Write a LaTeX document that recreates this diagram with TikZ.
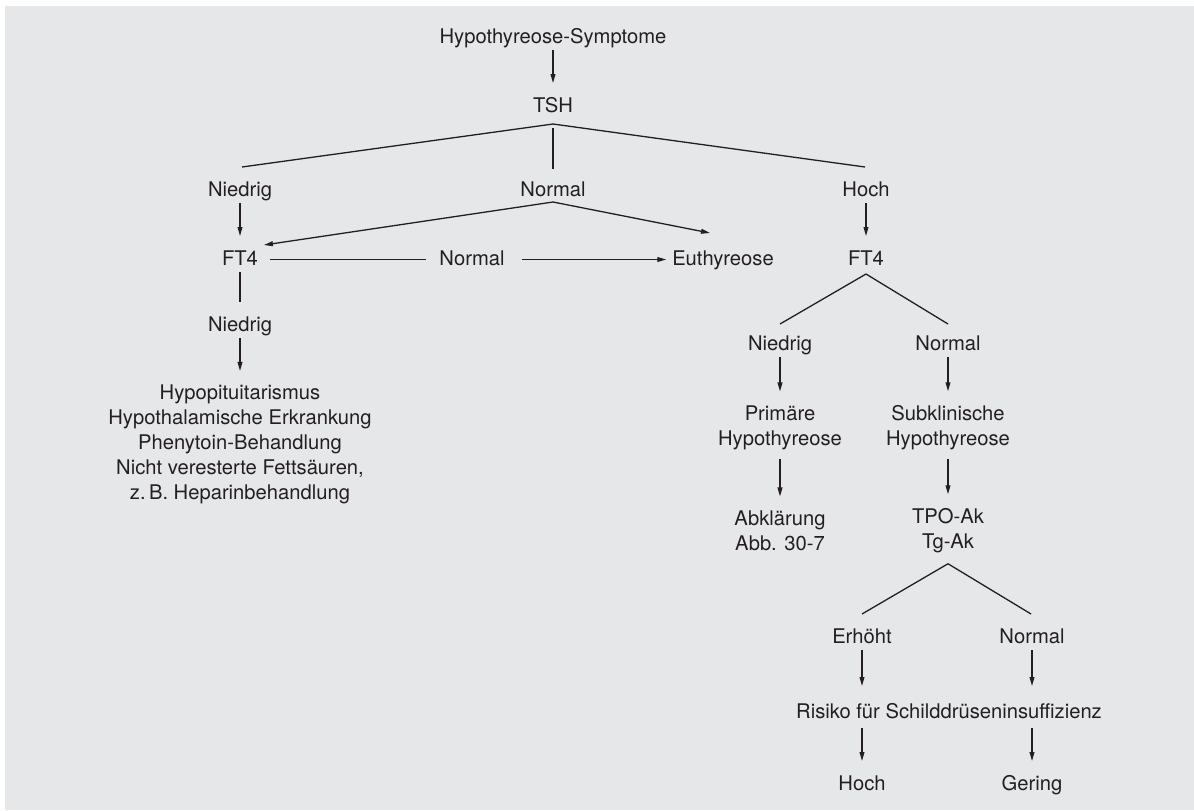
\documentclass[tikz,border=0pt]{standalone}
\usepackage{fontspec}
\setmainfont{TeX Gyre Heros}
\usepackage{xcolor}
\usetikzlibrary{arrows, arrows.meta}
\usetikzlibrary{positioning}
\usetikzlibrary{calc}

\definecolor{bgGrau}{RGB}{230,231,233}
\definecolor{tinte}{RGB}{35,31,32}

\tikzset{
	lbl/.style={inner sep=0pt, outer sep=0pt, text=tinte, font=\fontsize{10.1}{12.5}\selectfont, text height=7.5pt, text depth=2pt},
	blk/.style={inner sep=0pt, outer sep=0pt, text=tinte, font=\fontsize{10.1}{12.5}\selectfont, align=center},
	fork/.style={draw=tinte, line width=0.65pt},
	tip/.style={-{Triangle[length=4.5pt,width=2.4pt]}},
	lnk/.style={fork, shorten <=1.5pt, shorten >=7pt},
	arr/.style={lnk, tip},
}

\begin{document}
\begin{tikzpicture}[x=0.5pt,y=0.5pt,yscale=-1,xscale=1]
		\useasboundingbox (0,0) rectangle (1194,810);
		
		%Shape: Rectangle (background)
		\fill[bgGrau] (5,6) rectangle (1194,810);
		
		%Nodes: TSH level
		\node[lbl] (symptome) at (553,37.5) {Hypothyreose-Symptome};
		\node[lbl] (tsh) at (553,106.5) {TSH};
		\node[lbl] (tshniedrig) at (240,190.5) {Niedrig};
		\node[lbl] (tshnormal) at (553,190.5) {Normal};
		\node[lbl] (tshhoch) at (866,190.5) {Hoch};
		
		%Nodes: FT4 row
		\node[lbl] (ftlinks) at (240,259.5) {FT4};
		\node[lbl] (ftnormal) at (472,259.5) {Normal};
		\node[lbl] (euthyreose) at (723,259.5) {Euthyreose};
		\node[lbl] (ftrechts) at (866,259.5) {FT4};
		
		%Nodes: left branch
		\node[lbl] (ftniedrig) at (240,325.5) {Niedrig};
		\node[blk] (ursachen) at (240,444.5) {Hypopituitarismus\\Hypothalamische Erkrankung\\Phenytoin-Behandlung\\Nicht veresterte Fettsäuren,\\z.\,B. Heparinbehandlung};
		
		%Nodes: right branch
		\node[lbl] (subniedrig) at (780,344.5) {Niedrig};
		\node[lbl] (subnormal) at (948,344.5) {Normal};
		\node[blk] (primaer) at (780,427.5) {Primäre\\Hypothyreose};
		\node[blk] (subklin) at (948,427.5) {Subklinische\\Hypothyreose};
		\node[blk] (abklaerung) at (780,530.5) {Abklärung\\Abb. 30-7};
		\node[blk] (antik) at (948,530.5) {TPO-Ak\\Tg-Ak};
		\node[lbl] (erhoeht) at (862,637.5) {Erhöht};
		\node[lbl] (aknormal) at (1032,637.5) {Normal};
		\node[lbl] (risiko) at (949,712.5) {Risiko für Schilddrüseninsuffizienz};
		\node[lbl] (hoch) at (862,784.5) {Hoch};
		\node[lbl] (gering) at (1032,784.5) {Gering};
		
		%Connectors: TSH
		\draw[arr] (symptome) -- (tsh);
		\draw[fork] ($(tsh.south)+(0,8)$) -- ($(tshniedrig.north)+(2,-14)$);
		\draw[fork] ($(tsh.south)+(0,8)$) -- ($(tshhoch.north)+(-1,-14)$);
		\draw[fork] ($(tsh.south)+(0,12)$) -- ($(tshnormal.north)+(0,-12)$);
		\draw[arr] (tshniedrig) -- (ftlinks);
		\draw[arr] (tshhoch) -- (ftrechts);
		
		%Connectors: TSH normal
		\draw[fork, tip] ($(tshnormal.south)+(0,2)$) -- ($(ftlinks.north east)+(6,-5)$);
		\draw[fork, tip] ($(tshnormal.south)+(0,2)$) -- ($(euthyreose.north)+(-13,-17)$);
		\draw[lnk, shorten <=6pt, shorten >=6.5pt] (ftlinks) -- (ftnormal);
		\draw[arr, shorten <=8.5pt, shorten >=3pt] (ftnormal) -- (euthyreose);
		
		%Connectors: left branch
		\draw[lnk] (ftlinks) -- (ftniedrig);
		\draw[arr] (ftniedrig) -- (ursachen);
		
		%Connectors: right branch
		\draw[fork] ($(ftrechts.south)+(0,5)$) -- ($(subniedrig.north)+(0,-11)$);
		\draw[fork] ($(ftrechts.south)+(0,5)$) -- ($(subnormal.north)+(0,-11)$);
		\draw[arr] (subniedrig) -- (primaer);
		\draw[arr] (subnormal) -- (subklin);
		\draw[arr, shorten <=4.5pt] (primaer) -- (abklaerung);
		\draw[arr, shorten <=4.5pt] (subklin) -- (antik);
		
		%Connectors: antibodies
		\draw[fork] ($(antik.south)+(0,11)$) -- ($(erhoeht.north)+(0,-14)$);
		\draw[fork] ($(antik.south)+(0,11)$) -- ($(aknormal.north)+(-1,-14)$);
		\draw[arr, shorten >=8.5pt] (erhoeht.south) -- (erhoeht.south |- risiko.north);
		\draw[arr, shorten >=8.5pt] (aknormal.south) -- (aknormal.south |- risiko.north);
		\draw[arr, shorten <=3pt] (risiko.south -| hoch.north) -- (hoch.north);
		\draw[arr, shorten <=3pt] (risiko.south -| gering.north) -- (gering.north);
		
	\end{tikzpicture}
\end{document}
